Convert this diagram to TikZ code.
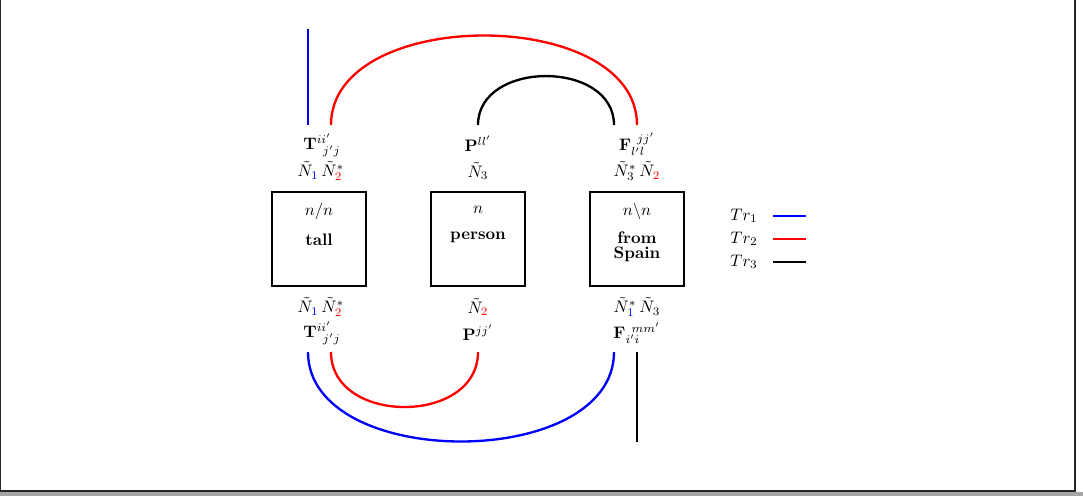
\documentclass[tikz,border=0pt]{standalone}
\usepackage{tikz}

\begin{document}
\begin{tikzpicture}[x=0.6pt, y=-0.6pt,
    every node/.style={inner sep=0.5pt},
    box/.style={draw, line width=1.2pt, minimum size=56.5pt, inner sep=0pt},
    word/.style={font=\bfseries, align=center},
    wire/.style={line width=1.4pt}]
  \useasboundingbox (0,0) rectangle (1083,496);
  \fill[gray!70] (0,492) rectangle (1083,496);
  \draw[line width=0.7pt, black!85] (0.5,0) -- (0.5,491) -- (1075,491) -- (1075,0);

  % boxes
  \node[box] (tall) at (319,239) {};
  \node[box] (person) at (478,239) {};
  \node[box] (spain) at (637,239) {};
  \node (tallcat) at (319,211) {$n/n$};
  \node[word] (tallw) at (319,240) {tall};
  \node (personcat) at (478,210) {$n$};
  \node[word] (personw) at (478,237) {person};
  \node (spaincat) at (637,211) {$n\backslash n$};
  \node[word, inner sep=0pt] (spainw) at (637,247) {from\\[-3pt]Spain};

  % labels above
  \node (tallNa) at (321,171) {$\tilde N_{\color{blue}1}\,\tilde N^*_{\color{red}2}$};
  \node (tallTa) at (322,145) {$\mathbf{T}^{ii'}_{\;\,j'j}$};
  \node (personNa) at (478,171) {$\tilde N_3$};
  \node (personPa) at (478,144) {$\mathbf{P}^{ll'}$};
  \node (spainNa) at (637,171) {$\tilde N^*_3\,\tilde N_{\color{red}2}$};
  \node (spainFa) at (637,144) {$\mathbf{F}_{l'l}^{\;\,jj'}$};

  % labels below
  \node (tallNb) at (321,307) {$\tilde N_{\color{blue}1}\,\tilde N^*_{\color{red}2}$};
  \node (tallTb) at (322,333) {$\mathbf{T}^{ii'}_{\;\,j'j}$};
  \node (personNb) at (478,307) {$\tilde N_{\color{red}2}$};
  \node (personPb) at (478,333) {$\mathbf{P}^{jj'}$};
  \node (spainNb) at (637,307) {$\tilde N^*_{\color{blue}1}\,\tilde N_3$};
  \node (spainFb) at (637,333) {$\mathbf{F}_{i'i}^{\;\,mm'}$};

  % wire ends
  \coordinate (t1) at (308,125);
  \coordinate (t2) at (331,125);
  \coordinate (p1) at (478,125);
  \coordinate (f1) at (614,125);
  \coordinate (f2) at (637,125);
  \coordinate (b1) at (308,352);
  \coordinate (b2) at (331,352);
  \coordinate (q1) at (478,352);
  \coordinate (g1) at (614,352);
  \coordinate (g2) at (637,352);
  \coordinate (topend) at (308,29);
  \coordinate (botend) at (637,442);

  \draw[wire, blue] (t1) -- (topend);
  \draw[wire, red] (t2) to[out=90, in=90, looseness=1] (f2);
  \draw[wire] (p1) to[out=90, in=90, looseness=1.23] (f1);
  \draw[wire, blue] (b1) to[out=-90, in=-90, looseness=1] (g1);
  \draw[wire, red] (b2) to[out=-90, in=-90, looseness=1.28] (q1);
  \draw[wire] (g2) -- (botend);

  % legend
  \node (tr1) at (744,216) {$Tr_1$};
  \node (tr2) at (744,239) {$Tr_2$};
  \node (tr3) at (744,262) {$Tr_3$};
  \coordinate (l1) at (773,216);
  \coordinate (l2) at (773,239);
  \coordinate (l3) at (773,262);
  \draw[wire, blue] (l1) -- ++(33,0);
  \draw[wire, red] (l2) -- ++(33,0);
  \draw[wire] (l3) -- ++(33,0);
\end{tikzpicture}
\end{document}
